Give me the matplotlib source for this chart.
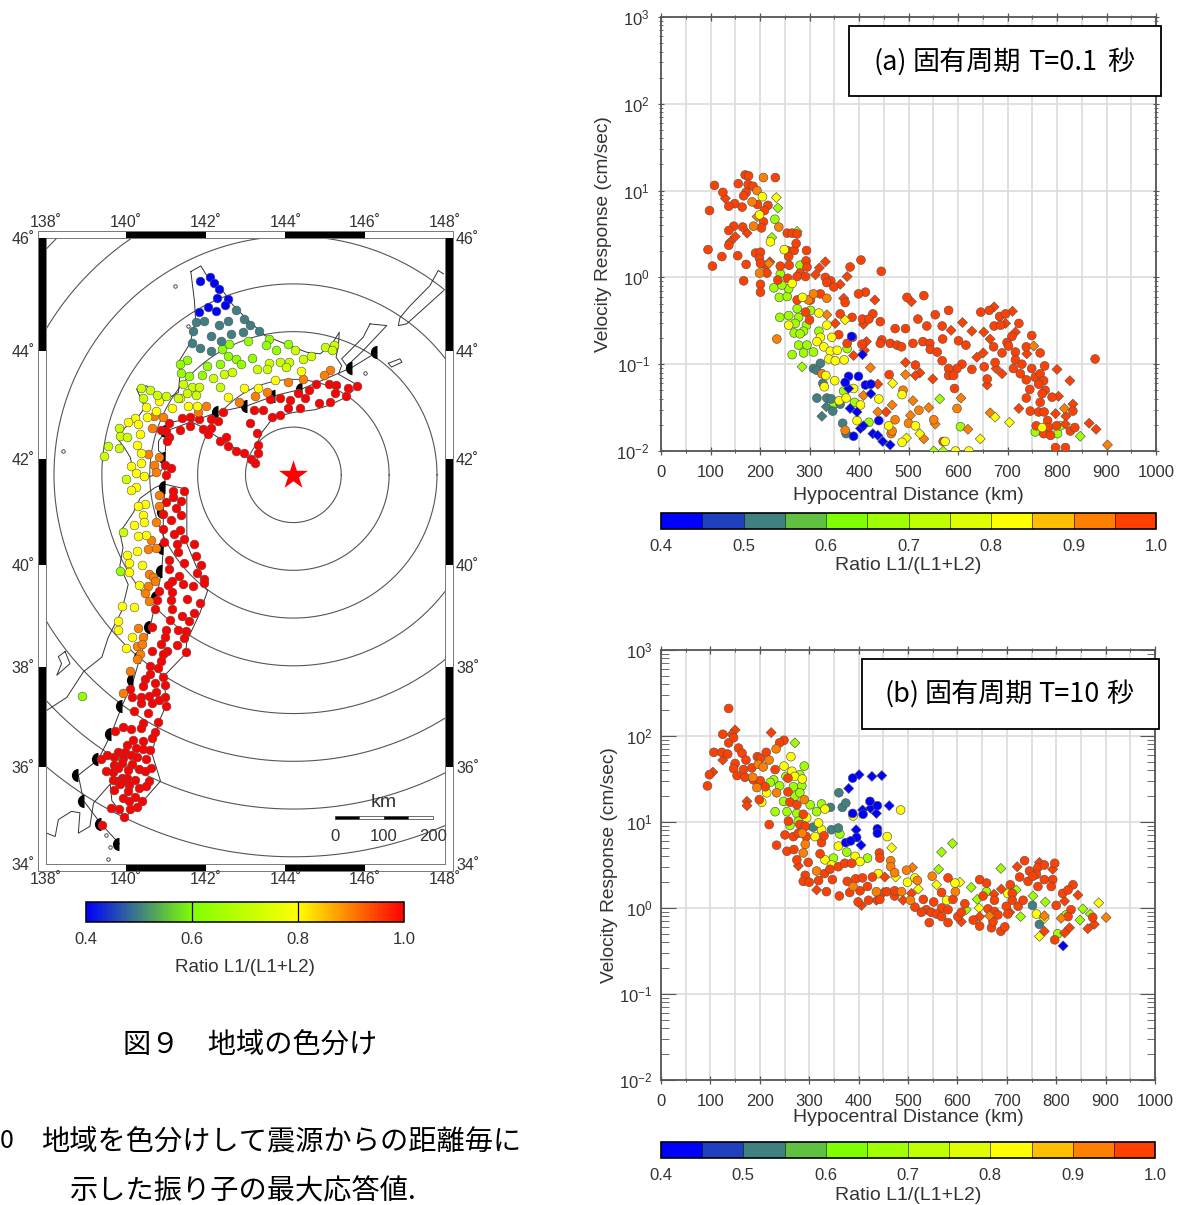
import numpy as np
import matplotlib
matplotlib.use('Agg')
import matplotlib.pyplot as plt
from matplotlib.cm import ScalarMappable
from matplotlib.colors import BoundaryNorm, LinearSegmentedColormap, ListedColormap, Normalize
from matplotlib.patches import Rectangle
from matplotlib.ticker import LogLocator, MultipleLocator, NullFormatter, NullLocator

plt.rcParams['font.family'] = ['Liberation Sans', 'Noto Sans CJK JP', 'DejaVu Sans']
plt.rcParams['mathtext.default'] = 'regular'
plt.rcParams['text.color'] = '#333333'
plt.rcParams['xtick.labelcolor'] = '#333333'
plt.rcParams['ytick.labelcolor'] = '#333333'

W, H = 1185, 1205

# ---- map data: stations by ratio class (lon, lat) ----
map_blue_lon = [141.85, 142.11, 142.21, 142.33, 142.28, 142.57, 142.48, 142.05, 142.25, 141.83]
map_blue_lat = [45.24, 45.32, 45.20, 45.11, 44.95, 44.92, 44.82, 44.79, 44.71, 44.70]
map_teal_lon = [142.75, 142.96, 143.12, 143.34, 141.75, 141.95, 142.33, 142.56, 141.68, 142.14, 142.63, 142.94, 142.38, 141.66, 141.85, 142.13]
map_teal_lat = [44.73, 44.57, 44.46, 44.35, 44.52, 44.53, 44.46, 44.53, 44.35, 44.27, 44.30, 44.33, 44.17, 44.14, 44.04, 44.00]
map_green_lon = [143.06, 143.58, 143.52, 143.77, 144.06, 142.41, 142.58, 142.56, 142.75, 142.89, 143.17, 141.54, 141.35, 141.39, 141.58, 141.91, 142.04, 142.36, 139.85, 138.89]
map_green_lat = [44.17, 44.21, 44.10, 44.01, 44.11, 44.02, 44.11, 43.90, 43.85, 43.76, 43.87, 43.83, 43.76, 43.59, 43.53, 43.55, 43.72, 43.76, 39.88, 37.43]
map_ygreen_lon = [144.24, 144.43, 144.64, 144.98, 145.23, 145.16, 142.18, 142.46, 142.66, 142.36, 141.43, 141.67, 141.84, 143.29, 143.58, 143.55, 143.87, 144.08, 144.02, 140.38, 140.61, 140.44, 140.78, 141.00, 141.32, 141.53, 141.77, 139.84, 139.85, 140.02, 139.56, 139.45, 139.82, 140.00, 139.93]
map_ygreen_lat = [44.01, 43.85, 43.90, 44.06, 44.10, 44.01, 43.50, 43.57, 43.61, 43.33, 43.39, 43.33, 43.33, 43.66, 43.78, 43.66, 43.79, 43.80, 43.70, 43.31, 43.28, 43.14, 43.19, 43.18, 43.14, 43.22, 43.19, 42.59, 42.44, 42.42, 42.24, 42.06, 42.22, 41.64, 40.63]
map_yellow_lon = [140.51, 140.83, 141.36, 141.55, 141.17, 140.76, 140.53, 140.24, 140.06, 140.36, 140.31, 140.27, 140.38, 140.37, 140.14, 140.26, 140.45, 140.26, 140.13, 140.48, 140.31, 140.44, 140.45, 140.20, 140.51, 140.30, 142.57, 142.95, 143.31, 143.74, 144.38, 141.78, 140.03, 140.27, 140.08, 140.41, 140.08, 140.34, 139.91, 140.20, 139.80, 139.80, 140.16, 140.00]
map_yellow_lat = [42.97, 43.08, 43.13, 42.99, 42.96, 42.89, 42.79, 42.77, 42.69, 42.48, 42.65, 42.26, 42.12, 41.94, 41.87, 41.74, 41.68, 41.48, 41.42, 41.17, 41.12, 40.96, 40.81, 40.77, 40.58, 40.56, 43.16, 43.32, 43.31, 43.46, 43.62, 42.99, 40.19, 40.27, 40.03, 39.99, 39.87, 39.61, 39.20, 39.19, 38.91, 38.74, 38.60, 38.38]
map_orange_lon = [145.12, 144.96, 144.44, 144.07, 143.54, 143.24, 142.83, 142.00, 141.82, 140.70, 140.93, 140.65, 140.56, 140.82, 140.71, 140.75, 140.82, 140.83, 140.75, 140.63, 140.56, 140.76, 140.59, 140.67, 140.73, 140.55, 140.48, 140.57, 140.31, 140.42, 140.29, 140.40, 140.36, 140.27, 140.11, 139.94]
map_orange_lat = [43.65, 43.55, 43.49, 43.42, 43.24, 43.17, 43.06, 42.98, 42.87, 42.80, 42.78, 42.58, 42.10, 42.04, 41.89, 41.76, 41.33, 41.13, 40.81, 40.47, 40.30, 40.32, 39.82, 39.77, 39.69, 39.59, 39.46, 39.29, 38.78, 38.60, 38.41, 38.45, 38.27, 38.17, 37.92, 37.48]
map_red_lon = [145.09, 145.27, 144.76, 145.79, 145.58, 145.25, 145.52, 144.59, 144.32, 143.87, 143.61, 144.12, 144.49, 145.13, 144.85, 144.37, 144.06, 143.86, 143.66, 143.45, 143.21, 142.44, 142.30, 142.14, 141.83, 141.62, 141.41, 141.08, 140.88, 141.00, 141.08, 141.03, 141.36, 141.62, 141.93, 142.14, 142.05, 143.12, 143.28, 142.36, 142.50, 142.57, 143.32, 143.31, 142.76, 142.95, 143.13, 143.23, 140.97, 141.14, 141.01, 141.18, 141.46, 141.19, 141.00, 141.39, 141.25, 140.93, 141.38, 141.13, 140.92, 141.37, 141.21, 141.47, 140.95, 141.28, 141.72,
               141.30, 141.77, 141.08, 141.45, 141.88, 141.08, 141.79, 141.33, 141.97, 141.15, 141.95, 141.43, 141.68, 141.05, 140.83, 141.15, 141.14, 141.53, 141.87, 140.78, 141.16, 140.72, 141.70, 141.41, 141.12, 141.58, 140.65, 141.02, 141.31, 141.51, 140.97, 141.45, 140.89, 141.28, 140.65, 141.04, 141.50, 140.94, 140.87, 140.61, 140.80, 140.61, 140.93, 140.48, 140.73, 140.98, 140.44, 140.11, 140.76, 140.15, 140.37, 140.58, 140.97, 140.37, 140.65, 140.82, 141.01, 140.20, 140.56, 140.80, 140.42, 139.94, 140.14, 140.38, 139.72, 140.72, 140.65, 140.17, 140.42, 140.02, 140.25, 140.44, 140.61, 139.54, 139.39, 139.81, 139.98, 139.70, 139.94, 140.14, 140.29, 140.50, 139.71, 139.90, 140.15, 139.50, 139.67, 139.81, 140.06, 140.33, 140.64, 140.48, 139.69, 139.84, 139.90, 140.02, 140.24, 140.58, 140.09, 140.34, 140.51, 139.71, 140.06, 139.92, 140.23, 140.40, 140.09, 140.27, 139.63, 139.84, 140.11, 139.95, 139.40, 139.78, 139.93, 139.86]
map_red_lat = [43.39, 43.37, 43.40, 43.36, 43.32, 43.22, 43.18, 43.29, 43.22, 43.14, 43.11, 43.10, 43.14, 43.06, 43.04, 42.95, 42.95, 42.83, 42.79, 42.92, 42.92, 42.87, 42.72, 42.75, 42.75, 42.78, 42.76, 42.67, 42.55, 42.53, 42.41, 42.34, 42.55, 42.62, 42.56, 42.58, 42.47, 42.68, 42.49, 42.34, 42.41, 42.24, 42.27, 42.12, 42.16, 42.12, 42.01, 41.93, 41.90, 41.83, 41.71, 41.41, 41.41, 41.29, 41.19, 41.22, 41.08, 40.98, 40.96, 40.86, 40.68, 40.67, 40.60, 40.50, 40.43, 40.40, 40.40,
               40.25, 40.17, 40.10, 40.03, 40.00, 39.92, 39.84, 39.78, 39.73, 39.69, 39.64, 39.63, 39.60, 39.61, 39.50, 39.48, 39.31, 39.33, 39.26, 39.31, 39.14, 39.15, 39.07, 39.01, 38.93, 38.91, 38.80, 38.73, 38.74, 38.72, 38.59, 38.58, 38.45, 38.43, 38.33, 38.33, 38.30, 38.27, 38.12, 38.02, 37.99, 37.86, 37.81, 37.77, 37.68, 37.64, 37.62, 37.56, 37.50, 37.40, 37.40, 37.43, 37.41, 37.28, 37.29, 37.35, 37.23, 37.12, 37.09, 36.91, 36.88, 36.81, 36.76, 36.78, 36.73, 36.71, 36.59, 36.55, 36.53, 36.44, 36.39, 36.36, 36.35, 36.24, 36.15, 36.30, 36.30, 36.19, 36.17, 36.24, 36.20, 36.15, 36.04, 36.07, 36.05, 35.92, 35.90, 35.97, 35.93, 35.96, 35.98, 35.92, 35.73, 35.70, 35.78, 35.77, 35.73, 35.71, 35.63, 35.57, 35.61, 35.53, 35.50, 35.37, 35.39, 35.31, 35.31, 35.18, 35.16, 35.13, 35.13, 34.98, 34.80, 35.72, 35.72, 35.66]

# black marks along the line and the line itself
line_lon = [146.29, 145.66, 144.41, 143.74, 143.03, 142.32, 141.02, 140.98, 140.98, 140.94, 140.94, 140.90, 140.77, 140.61, 140.36, 140.19, 139.90, 139.63, 139.31, 138.81, 138.94, 139.38, 139.84]
line_lat = [43.97, 43.69, 43.30, 43.18, 42.99, 42.88, 42.53, 42.03, 41.49, 41.00, 40.33, 39.88, 39.37, 38.79, 38.20, 37.74, 37.22, 36.66, 36.15, 35.83, 35.31, 34.83, 34.42]

# coast lines
hokkaido_lon = [141.63, 141.88, 142.03, 142.40, 142.67, 143.03, 143.49, 144.03, 144.53, 144.87, 145.16, 145.35, 145.33, 145.27, 145.41, 145.33, 145.62, 145.83, 145.49, 145.12, 144.74, 144.20, 143.70, 143.41, 143.28, 143.37, 143.21, 142.95, 142.53, 141.94, 141.53, 141.19, 141.00, 140.82, 140.82, 140.98, 140.94, 140.82, 140.48, 140.19, 140.11, 139.98, 139.79, 139.98, 140.27, 140.48, 140.27, 140.52, 140.94, 141.32, 141.36, 141.32, 141.61, 141.75, 141.72, 141.63]
hokkaido_lat = [45.41, 45.51, 45.34, 45.10, 44.83, 44.57, 44.27, 44.11, 43.97, 43.94, 44.11, 44.33, 44.09, 43.88, 43.73, 43.57, 43.45, 43.36, 43.14, 43.01, 42.92, 42.87, 42.78, 42.50, 42.28, 42.13, 41.89, 42.11, 42.30, 42.59, 42.74, 42.70, 42.53, 42.34, 42.16, 42.07, 41.85, 41.72, 41.66, 41.79, 42.04, 42.20, 42.39, 42.59, 42.75, 42.96, 43.30, 43.36, 43.08, 43.24, 43.59, 43.79, 44.13, 44.55, 44.89, 45.41]
honshu_lon = [140.94, 141.53, 141.53, 141.53, 141.99, 142.05, 141.86, 141.53, 141.50, 140.94, 141.03, 140.82, 140.66, 140.87, 140.44, 139.98, 139.65, 139.61, 139.19, 139.10, 138.81, 138.85, 138.64, 138.31, 138.23, 138.02]
honshu_lat = [41.54, 41.44, 41.02, 40.40, 39.56, 39.50, 39.07, 38.52, 38.27, 37.81, 37.27, 36.90, 36.26, 35.71, 35.31, 34.97, 35.31, 35.65, 35.26, 34.78, 34.64, 35.06, 35.09, 34.92, 34.57, 34.64]
honshu_west_lon = [138.00, 138.52, 138.94, 139.40, 139.56, 139.90, 140.06, 139.85, 139.93, 139.85, 140.19, 140.36, 140.73, 140.94]
honshu_west_lat = [37.13, 37.40, 37.91, 38.20, 38.59, 39.11, 39.62, 39.98, 40.33, 40.62, 41.00, 41.27, 41.47, 41.54]
sado_lon = [138.48, 138.60, 138.27, 138.39, 138.31, 138.48]
sado_lat = [38.31, 38.07, 37.84, 38.07, 38.21, 38.31]
kunashiri_lon = [146.12, 146.54, 145.95, 145.54, 145.41, 145.95, 146.12]
kunashiri_lat = [44.48, 44.45, 44.00, 43.72, 43.85, 44.24, 44.48]
etorofu_lon = [147.96, 147.83, 147.62, 147.12, 146.87, 146.83, 147.04, 147.96]
etorofu_lat = [45.37, 45.43, 45.16, 44.80, 44.59, 44.45, 44.48, 45.07]
shikotan_lon = [146.58, 146.87, 146.92, 146.66, 146.58]
shikotan_lat = [43.77, 43.85, 43.79, 43.70, 43.77]
island_lon = [141.23, 141.55, 139.50, 139.60, 139.55, 138.43, 146.00]
island_lat = [45.16, 44.45, 34.60, 34.35, 34.10, 42.15, 43.60]

epicenter_lon, epicenter_lat = 144.20, 41.71
circle_km = [100, 200, 300, 400, 500, 600, 700, 800]
deg_per_100km = 1.2

# ---- panel (a): distance km, log10 velocity ----
a_red_c_km = [170, 177, 231, 156, 176, 186, 108, 125, 172, 167, 149, 137, 164, 195, 216, 209, 98, 207, 203, 147, 137, 165, 255, 265, 275, 137, 95, 191, 201, 155, 123, 104, 172, 199, 211, 201, 214, 167, 201, 201, 255, 269, 273, 294, 258, 293, 241, 259, 295, 281, 275, 292, 256, 236, 404, 382, 445, 332, 343, 335, 349, 322, 302, 275, 292, 300, 413, 399, 531, 497, 372, 362, 386, 407, 428, 420, 443, 519, 554, 581, 537, 568, 494, 473, 359, 387, 376, 406, 446, 443, 463, 477, 486, 509, 529, 543, 544, 558, 568, 569, 601, 616, 646, 663, 684, 696, 723, 673, 686, 709, 699, 672, 702, 689, 716, 749, 738, 766, 716, 675, 653, 628, 608, 598, 581, 581, 591, 514, 461, 729, 712, 726, 738, 749, 775, 756, 766, 773, 763, 745, 659, 593, 738, 776, 770, 790, 766, 746, 763, 774, 781, 758, 783, 799, 773, 787, 827, 836, 877, 832, 570, 797, 817]
a_red_c_logv = [1.18, 1.17, 1.15, 1.08, 1.07, 1.05, 1.06, 0.98, 0.98, 0.94, 0.85, 0.82, 0.81, 0.84, 0.83, 0.77, 0.77, 0.64, 0.57, 0.59, 0.54, 0.58, 0.51, 0.51, 0.50, 0.37, 0.32, 0.28, 0.29, 0.25, 0.24, 0.13, 0.15, 0.22, 0.14, 0.16, 0.05, -0.04, -0.08, -0.17, 0.31, 0.31, 0.39, 0.31, 0.24, 0.19, 0.13, 0.14, 0.12, 0.05, 0.01, 0.01, -0.01, -0.03, 0.20, 0.12, 0.07, 0.00, -0.04, -0.06, -0.11, -0.19, -0.26, -0.26, -0.40, -0.49, -0.17, -0.19, -0.21, -0.23, -0.29, -0.42, -0.46, -0.48, -0.42, -0.48, -0.51, -0.48, -0.43, -0.38, -0.56, -0.56, -0.59, -0.59, -0.66, -0.69, -0.76, -0.77, -0.72, -0.76, -0.76, -0.78, -0.80, -0.76, -0.74, -0.76, -0.83, -0.86, -0.96, -0.71, -0.73, -0.78, -0.40, -0.38, -0.45, -0.42, -0.53, -0.56, -0.55, -0.68, -0.75, -0.80, -0.79, -0.87, -0.86, -0.67, -0.80, -0.87, -0.95, -0.98, -1.03, -1.06, -1.00, -1.05, -1.05, -1.13, -1.13, -1.01, -1.12, -1.00, -1.05, -1.11, -1.18, -1.05, -1.02, -1.15, -1.11, -1.19, -1.23, -1.29, -1.17, -1.28, -1.39, -1.30, -1.34, -1.38, -1.44, -1.54, -1.55, -1.55, -1.65, -1.71, -1.73, -1.71, -1.80, -1.82, -1.77, -1.73, -0.94, -1.54, -1.89, -1.96, -1.96]
a_red_d_km = [130, 150, 140, 174, 220, 332, 320, 312, 376, 362, 369, 432, 506, 409, 352, 415, 411, 389, 494, 523, 514, 549, 438, 455, 586, 609, 628, 652, 673, 710, 696, 716, 665, 651, 638, 739, 689, 659, 677, 800, 826, 723, 797, 818, 832, 865, 879, 803, 817]
a_red_d_logv = [0.91, 0.47, 0.41, 0.51, 0.18, 0.18, 0.11, 0.03, 0.01, -0.08, -0.24, -0.26, -0.28, -0.54, -0.53, -0.74, -0.84, -0.90, -0.98, -1.10, -1.13, -1.17, -1.23, -1.55, -0.61, -0.52, -0.62, -0.63, -0.34, -0.39, -0.53, -0.63, -0.71, -0.87, -0.92, -0.88, -1.11, -1.24, -1.05, -1.06, -1.19, -1.51, -1.57, -1.60, -1.46, -1.68, -1.75, -1.37, -1.69]
a_orange_c_km = [234, 187, 199, 238, 489, 521, 598, 473, 500, 551, 465, 467, 325, 372, 298, 308, 335, 194, 184, 207]
a_orange_c_logv = [-0.71, 0.59, 0.05, 0.58, -1.30, -1.53, -1.51, -1.64, -1.68, -1.64, -1.80, -1.77, -1.11, -1.76, -0.26, -0.19, -0.24, 1.00, 0.87, 1.15]
a_orange_d_km = [423, 494, 467, 509, 504, 541, 554, 606, 620, 665, 531, 753, 815, 902, 438, 335, 409, 194, 218]
a_orange_d_logv = [-1.04, -1.12, -1.47, -1.42, -1.59, -1.50, -1.69, -1.39, -1.75, -1.56, -1.86, -0.79, -1.51, -1.93, -1.55, -0.43, -1.36, 0.70, 0.16]
a_yellow_c_km = [205, 199, 221, 249, 265, 286, 319, 258, 322, 335, 345, 315, 329, 342, 356, 370, 339, 352, 333, 351, 330, 389, 360, 374, 440, 487, 396, 460, 514, 487, 574, 403, 770, 595, 622]
a_yellow_c_logv = [0.93, 0.72, 0.41, 0.32, -0.07, -0.23, -0.41, -0.55, -0.69, -0.55, -0.69, -0.74, -0.80, -0.85, -0.84, -0.95, -0.94, -0.96, -1.13, -1.19, -1.26, -1.28, -1.42, -1.39, -1.40, -1.35, -1.65, -1.71, -1.71, -1.90, -1.89, -1.47, -1.73, -2.00, -2.00]
a_yellow_d_km = [233, 372, 468, 675, 704, 645, 496, 523]
a_yellow_d_logv = [0.92, -0.49, -1.22, -1.61, -1.67, -1.86, -1.85, -1.80]
a_lime_c_km = [230, 228, 239, 255, 240, 258, 278, 271, 294, 288, 269, 281, 278, 295, 288, 308, 265, 319, 302, 275, 258, 241, 281, 244, 369, 420, 349, 391, 376, 756, 801, 807, 605]
a_lime_c_logv = [0.67, -0.12, -0.23, -0.22, -0.46, -0.44, -0.46, -0.53, -0.55, -0.62, -0.64, -0.65, -0.78, -0.78, -0.87, -0.86, -0.89, -0.62, -0.38, -0.36, -0.13, 0.04, 0.14, -0.09, -1.31, -1.67, -1.46, -1.44, -0.82, -1.78, -1.80, -1.71, -1.72]
a_lime_d_km = [236, 275, 224, 285, 563, 847, 551, 570]
a_lime_d_logv = [0.80, 0.53, 0.46, -1.03, -1.40, -1.83, -2.00, -2.00]
a_teal_c_km = [315, 335, 344, 347, 367, 374, 362, 327, 308, 322, 315]
a_teal_c_logv = [-1.39, -1.39, -1.40, -1.54, -1.68, -1.80, -1.46, -1.22, -1.05, -0.99, -1.07]
a_teal_d_km = [325, 334]
a_teal_d_logv = [-1.60, -1.49]
a_blue_c_km = [385, 379, 399, 372, 413, 424, 440, 389]
a_blue_c_logv = [-0.68, -1.14, -1.14, -1.21, -1.24, -1.23, -1.65, -1.83]
a_blue_d_km = [407, 382, 396, 424, 379, 403, 409, 428, 438, 448, 463]
a_blue_d_logv = [-0.89, -1.51, -1.55, -1.34, -1.28, -1.74, -1.71, -1.80, -1.82, -1.89, -1.93]

# ---- panel (b) ----
b_red_c_km = [137, 125, 137, 147, 107, 123, 135, 157, 164, 172, 150, 147, 167, 154, 170, 184, 195, 213, 201, 249, 240, 187, 201, 211, 199, 257, 231, 257, 98, 94, 261, 275, 219, 234, 281, 292, 258, 288, 251, 268, 278, 294, 255, 269, 275, 298, 322, 325, 330, 292, 288, 300, 319, 347, 331, 342, 359, 372, 386, 377, 394, 408, 428, 335, 361, 382, 403, 418, 442, 443, 399, 420, 443, 457, 473, 473, 531, 514, 552, 568, 581, 537, 527, 547, 568, 558, 568, 543, 581, 581, 591, 601, 615, 608, 645, 632, 662, 652, 659, 645, 675, 675, 682, 669, 688, 672, 699, 702, 723, 707, 711, 711, 736, 726, 746, 763, 776, 797, 743, 763, 776, 793, 790, 760, 753, 733, 800, 834, 813, 824, 830, 824, 874, 797, 696]
b_red_c_logv = [2.32, 2.02, 1.92, 1.98, 1.81, 1.81, 1.79, 1.86, 1.80, 1.72, 1.68, 1.62, 1.61, 1.54, 1.52, 1.63, 1.76, 1.81, 1.74, 1.95, 1.92, 1.49, 1.48, 1.41, 1.26, 1.51, 1.61, 1.35, 1.55, 1.42, 1.23, 1.20, 0.97, 0.73, 0.97, 0.95, 1.01, 1.09, 0.85, 0.83, 0.87, 0.83, 0.66, 0.68, 0.56, 0.53, 0.63, 0.76, 0.84, 0.38, 0.31, 0.30, 0.32, 0.33, 0.40, 0.45, 0.48, 0.52, 0.52, 0.31, 0.34, 0.35, 0.36, 0.19, 0.14, 0.18, 0.20, 0.25, 0.64, 0.58, 0.07, 0.09, 0.10, 0.19, 0.14, 0.20, 0.10, 0.01, 0.07, 0.18, 0.35, -0.02, -0.05, -0.05, 0.00, -0.07, -0.10, -0.17, -0.02, -0.17, 0.10, -0.10, 0.05, -0.05, -0.21, -0.14, -0.01, 0.14, 0.29, 0.33, -0.04, 0.09, -0.08, -0.23, -0.27, -0.16, 0.02, -0.07, 0.02, 0.27, 0.17, 0.09, 0.55, 0.36, 0.43, 0.47, 0.50, 0.52, 0.31, 0.25, 0.33, 0.33, 0.25, 0.39, 0.37, 0.09, 0.03, 0.27, 0.17, 0.21, -0.02, -0.10, -0.11, -0.37, -0.22]
b_red_d_km = [150, 223, 143, 125, 105, 174, 174, 315, 278, 406, 436, 453, 490, 507, 645, 689, 721, 674, 766, 793, 817, 827, 817, 864, 877, 776, 844, 608, 706, 450]
b_red_d_logv = [2.07, 2.04, 2.02, 1.72, 1.58, 1.24, 1.19, 0.21, 0.49, 0.03, 0.09, 0.36, 0.09, 0.17, -0.10, 0.22, 0.48, 0.16, 0.53, 0.45, 0.08, -0.23, -0.29, -0.24, -0.19, -0.27, 0.15, -0.16, -0.05, 0.18]
b_orange_c_km = [233, 219, 197, 207, 186, 194, 234, 290, 286, 292, 288, 465, 465, 473, 497, 549, 519, 487, 505, 596, 436, 389, 315]
b_orange_c_logv = [1.85, 1.72, 1.67, 1.64, 1.52, 1.40, 1.34, 1.26, 0.87, 0.74, 0.64, 0.55, 0.48, 0.41, 0.44, 0.37, 0.32, 0.19, 0.09, 0.19, 0.19, 0.25, 0.43]
b_orange_d_km = [509, 901, 776, 810, 665]
b_orange_d_logv = [0.47, -0.11, -0.09, -0.12, -0.09]
b_yellow_c_km = [263, 249, 265, 271, 286, 214, 204, 295, 312, 325, 319, 332, 485, 389, 458, 359, 332, 345, 393, 403, 440, 499, 514, 578, 595, 702, 760]
b_yellow_c_logv = [1.76, 1.65, 1.59, 1.53, 1.50, 1.34, 1.23, 1.05, 0.83, 0.91, 0.99, 1.15, 1.14, 1.07, 0.83, 0.72, 0.56, 0.50, 0.60, 0.54, 0.40, 0.30, 0.35, 0.09, 0.29, 0.17, -0.07]
b_yellow_d_km = [467, 475, 521, 558, 605, 776, 766, 886, 644]
b_yellow_d_logv = [0.70, 0.36, 0.22, 0.27, 0.30, -0.12, -0.33, 0.06, 0.00]
b_lime_c_km = [290, 228, 240, 268, 281, 285, 253, 231, 255, 275, 302, 325, 315, 261, 278, 362, 376, 418, 349, 659, 820, 803, 248, 271, 281, 221]
b_lime_c_logv = [1.65, 1.49, 1.42, 1.41, 1.55, 1.42, 1.53, 1.12, 1.12, 1.10, 1.20, 1.21, 1.12, 0.96, 1.01, 0.86, 0.65, 0.58, 0.58, 0.19, -0.08, -0.30, 1.24, 1.30, 1.34, 1.46]
b_lime_d_km = [271, 562, 568, 590, 628, 688, 778, 728, 854, 848, 869, 753, 640, 719, 618]
b_lime_d_logv = [1.92, 0.45, 0.65, 0.75, 0.24, 0.46, 0.07, -0.10, -0.01, -0.14, -0.07, 0.14, 0.10, 0.21, -0.02]
b_teal_c_km = [360, 367, 374, 343, 345, 359, 308, 752, 766]
b_teal_c_logv = [1.34, 1.17, 1.22, 1.17, 0.91, 0.93, 0.94, 0.03, -0.19]
b_blue_c_km = [388, 423, 438, 388, 409, 438, 438, 396, 374, 384]
b_blue_c_logv = [1.51, 1.24, 1.19, 1.10, 1.09, 0.92, 0.87, 0.82, 0.76, 0.78]
b_blue_d_km = [401, 427, 447, 380, 424, 462, 436, 408, 395, 405, 814]
b_blue_d_logv = [1.55, 1.53, 1.54, 1.39, 1.16, 1.19, 1.10, 1.14, 0.91, 0.73, -0.44]

# ---- colours / ticks ----
bar_colors = ['#0000ff', '#2040c0', '#408080', '#60c040', '#80ff00', '#a0ff00',
              '#bfff00', '#dfff00', '#ffff00', '#ffbf00', '#ff8000', '#ff4000']
bar_bounds = [0.40, 0.45, 0.50, 0.55, 0.60, 0.65, 0.70, 0.75, 0.80, 0.85, 0.90, 0.95, 1.00]
bar_ticks = [0.4, 0.5, 0.6, 0.7, 0.8, 0.9, 1.0]
map_bar_ticks = [0.4, 0.6, 0.8, 1.0]
ratio_blue, ratio_teal, ratio_lime, ratio_yellow, ratio_orange, ratio_red = 0.42, 0.52, 0.67, 0.82, 0.92, 0.98

spine_col = '#555555'
grid_col = '#dcdcdc'


def box(l, t, r, b):
    # pixels of the reference -> figure fraction
    return [l / W, 1 - b / H, (r - l) / W, (b - t) / H]


def merc(lat):
    return np.log(np.tan(np.pi / 4 + np.radians(np.asarray(lat, dtype=float)) / 2))


def inv_merc(y):
    return np.degrees(2 * np.arctan(np.exp(np.asarray(y, dtype=float))) - np.pi / 2)


fig = plt.figure(figsize=(W / 100, H / 100), dpi=100)

# ---------------- map ----------------
ax = fig.add_axes(box(46, 238, 445, 864))
ax.set_yscale('function', functions=(merc, inv_merc))
ax.set_xlim(138, 148)
ax.set_ylim(34, 46)
ax.set_xticks([138, 140, 142, 144, 146, 148])
ax.set_xticklabels([f'{v}\u02da' for v in [138, 140, 142, 144, 146, 148]])
ax.set_yticks([34, 36, 38, 40, 42, 44, 46])
ax.set_yticklabels([f'{v}\u02da' for v in [34, 36, 38, 40, 42, 44, 46]])
ax.yaxis.set_minor_locator(NullLocator())
ax.yaxis.set_minor_formatter(NullFormatter())
ax.tick_params(axis='x', length=0, labelsize=11.5, top=True, labeltop=True, pad=6)
ax.tick_params(axis='y', length=0, labelsize=11.5, right=True, labelright=True, pad=8)
for s in ax.spines.values():
    s.set_linewidth(0.7)
    s.set_color('#777777')

# distance circles stay round in the map projection
theta = np.linspace(0, 2 * np.pi, 720)
for km in circle_km:
    r = km / 100 * deg_per_100km
    cx = epicenter_lon + r * np.cos(theta)
    cy = inv_merc(merc(epicenter_lat) + np.radians(r) * np.sin(theta))
    ax.plot(cx, cy, color='#555555', lw=0.8, zorder=1)

for lons, lats in [(hokkaido_lon, hokkaido_lat), (honshu_lon, honshu_lat), (honshu_west_lon, honshu_west_lat),
                   (sado_lon, sado_lat), (kunashiri_lon, kunashiri_lat), (etorofu_lon, etorofu_lat),
                   (shikotan_lon, shikotan_lat)]:
    ax.plot(lons, lats, color='#333333', lw=0.7, zorder=2)
ax.plot(island_lon, island_lat, ls='none', marker='o', ms=2.5, mfc='white', mec='#333333', mew=0.6, zorder=2)
ax.plot(line_lon, line_lat, color='#333333', lw=0.7, zorder=2)
ax.plot(line_lon, line_lat, ls='none', marker='o', ms=9.5, fillstyle='left', mfc='black',
        markerfacecoloralt='none', mec='none', zorder=2)

map_cmap = LinearSegmentedColormap.from_list('ratio', [(0, '#0000ff'), (1 / 6, '#408080'), (2 / 6, '#80ff00'),
                                                       (4 / 6, '#ffff00'), (1, '#ff0000')])
map_norm = Normalize(0.4, 1.0)
for lons, lats, ratio in [(map_red_lon, map_red_lat, 1.0), (map_orange_lon, map_orange_lat, 0.9),
                          (map_yellow_lon, map_yellow_lat, 0.8), (map_ygreen_lon, map_ygreen_lat, 0.72),
                          (map_green_lon, map_green_lat, 0.63), (map_teal_lon, map_teal_lat, 0.5),
                          (map_blue_lon, map_blue_lat, 0.4)]:
    ax.scatter(lons, lats, s=40, color=map_cmap(map_norm(ratio)), edgecolor='#555555', linewidth=0.4, zorder=3)
ax.scatter([epicenter_lon], [epicenter_lat], marker='*', s=480, color='#ff0000', linewidth=0, zorder=4)

# fancy frame round the map
for lon0 in [140, 144]:
    ax.add_patch(Rectangle((lon0, 46), 2, 0.125, fc='black', ec='none', clip_on=False))
    ax.add_patch(Rectangle((lon0, 33.86), 2, 0.14, fc='black', ec='none', clip_on=False))
for lat0 in [44, 40, 36]:
    ax.add_patch(Rectangle((137.81, lat0), 0.19, 2, fc='black', ec='none', clip_on=False))
    ax.add_patch(Rectangle((148, lat0), 0.19, 2, fc='black', ec='none', clip_on=False))
ax.add_patch(Rectangle((137.81, 33.86), 10.38, 12.265, fc='none', ec='#777777', lw=0.7, clip_on=False))

# scale bar
bar_lon0 = 145.24
bar_100 = 1.23
for i in range(4):
    ax.add_patch(Rectangle((bar_lon0 + i * bar_100 / 2, 34.93), bar_100 / 2, 0.07,
                           fc='black' if i % 2 == 0 else 'white', ec='#333333', lw=0.5, zorder=5))
ax.text(bar_lon0 + bar_100, 35.09, 'km', ha='center', va='bottom', fontsize=14)
for i, lab in enumerate(['0', '100', '200']):
    ax.text(bar_lon0 + i * bar_100, 34.58, lab, ha='center', va='center', fontsize=12)

# map colour bar
cax = fig.add_axes(box(86, 902, 404, 922))
fig.colorbar(ScalarMappable(map_norm, map_cmap), cax=cax, orientation='horizontal', ticks=map_bar_ticks)
cax.set_xticklabels(['0.4', '0.6', '0.8', '1.0'])
cax.tick_params(length=0, labelsize=12, pad=7)
for v in map_bar_ticks[1:-1]:
    cax.axvline(v, color='black', lw=0.9)
cax.spines['outline'].set_linewidth(1.1)
fig.text(245 / W, 1 - 967 / H, 'Ratio L1/(L1+L2)', ha='center', va='center', fontsize=13.5)

# ---------------- scatter panels ----------------
cmap = ListedColormap(bar_colors)
norm = BoundaryNorm(bar_bounds, cmap.N)
jp = 'Noto Sans CJK JP'


def panel(rect, groups, title_box, title_parts, bar_rect, xlabel_y, ratio_y, ylabel_x, y_inside):
    a = fig.add_axes(box(*rect))
    a.set_yscale('log')
    a.set_xlim(0, 1000)
    a.set_ylim(1e-2, 1e3)
    a.xaxis.set_major_locator(MultipleLocator(100))
    a.xaxis.set_minor_locator(MultipleLocator(50))
    a.yaxis.set_major_locator(LogLocator(base=10, numticks=8))
    a.yaxis.set_minor_locator(LogLocator(base=10, subs=np.arange(2, 10), numticks=8))
    a.yaxis.set_minor_formatter(NullFormatter())
    a.grid(which='major', color=grid_col, lw=1.2)
    a.grid(which='minor', axis='x', color=grid_col, lw=1.2)
    a.set_axisbelow(True)
    a.tick_params(axis='x', which='major', direction='inout', length=6, width=0.9, color=spine_col, top=True, labelsize=12, pad=7)
    a.tick_params(axis='x', which='minor', direction='inout', length=3.5, width=0.7, color=spine_col, top=True)
    if y_inside:
        a.tick_params(axis='y', which='major', direction='in', length=11, width=0.8, color=spine_col, right=True, labelsize=12, pad=6)
        a.tick_params(axis='y', which='minor', direction='in', length=6, width=0.6, color=spine_col, right=True)
    else:
        a.tick_params(axis='y', which='major', direction='inout', length=4, width=0.8, color=spine_col, right=True, labelsize=12, pad=6)
        a.tick_params(axis='y', which='minor', direction='inout', length=2.5, width=0.6, color=spine_col, right=True)
    for s in a.spines.values():
        s.set_linewidth(1.3)
        s.set_color(spine_col)
    for km, logv, ratio, marker in groups:
        a.scatter(km, 10 ** np.array(logv), s=40 if marker == 'o' else 26, marker=marker, c=[ratio] * len(km),
                  cmap=cmap, norm=norm, edgecolor='#555555', linewidth=0.45, zorder=3)
    fig.text((rect[0] + rect[2]) / 2 / W, 1 - xlabel_y / H, 'Hypocentral Distance (km)', ha='center', va='center', fontsize=14)
    fig.text(ylabel_x / W, 1 - (rect[1] + rect[3]) / 2 / H, 'Velocity Response (cm/sec)', rotation=90, ha='center', va='center', fontsize=13.8)
    # white label box with the period
    fig.add_artist(Rectangle((title_box[0] / W, 1 - title_box[3] / H), (title_box[2] - title_box[0]) / W,
                             (title_box[3] - title_box[1]) / H, transform=fig.transFigure, fc='white', ec='black', lw=1.3, zorder=6))
    for txt, cx, cy in title_parts:
        fig.text(cx / W, 1 - cy / H, txt, ha='center', va='center', fontsize=19.5, color='black', family=jp, zorder=7)
    # discrete colour bar
    c = fig.add_axes(box(*bar_rect))
    fig.colorbar(ScalarMappable(norm, cmap), cax=c, orientation='horizontal', ticks=bar_ticks, drawedges=True, spacing='proportional')
    c.set_xticklabels([f'{v:.1f}' for v in bar_ticks])
    c.tick_params(length=0, labelsize=12, pad=7)
    c.minorticks_off()
    c.spines['outline'].set_linewidth(1.2)
    fig.text((bar_rect[0] + bar_rect[2]) / 2 / W, 1 - ratio_y / H, 'Ratio L1/(L1+L2)', ha='center', va='center', fontsize=14)


groups_a = [(a_lime_c_km, a_lime_c_logv, ratio_lime, 'o'), (a_lime_d_km, a_lime_d_logv, ratio_lime, 'D'),
            (a_teal_c_km, a_teal_c_logv, ratio_teal, 'o'), (a_teal_d_km, a_teal_d_logv, ratio_teal, 'D'),
            (a_red_d_km, a_red_d_logv, ratio_red, 'D'), (a_red_c_km, a_red_c_logv, ratio_red, 'o'),
            (a_orange_d_km, a_orange_d_logv, ratio_orange, 'D'), (a_orange_c_km, a_orange_c_logv, ratio_orange, 'o'),
            (a_yellow_d_km, a_yellow_d_logv, ratio_yellow, 'D'), (a_yellow_c_km, a_yellow_c_logv, ratio_yellow, 'o'),
            (a_blue_d_km, a_blue_d_logv, ratio_blue, 'D'), (a_blue_c_km, a_blue_c_logv, ratio_blue, 'o')]
groups_b = [(b_lime_c_km, b_lime_c_logv, ratio_lime, 'o'), (b_lime_d_km, b_lime_d_logv, ratio_lime, 'D'),
            (b_teal_c_km, b_teal_c_logv, ratio_teal, 'o'),
            (b_yellow_d_km, b_yellow_d_logv, ratio_yellow, 'D'), (b_yellow_c_km, b_yellow_c_logv, ratio_yellow, 'o'),
            (b_red_d_km, b_red_d_logv, ratio_red, 'D'), (b_red_c_km, b_red_c_logv, ratio_red, 'o'),
            (b_orange_d_km, b_orange_d_logv, ratio_orange, 'D'), (b_orange_c_km, b_orange_c_logv, ratio_orange, 'o'),
            (b_blue_d_km, b_blue_d_logv, ratio_blue, 'D'), (b_blue_c_km, b_blue_c_logv, ratio_blue, 'o')]

panel((661, 17, 1156, 451), groups_a, (849, 26, 1161, 96),
      [('(a)', 890, 62), ('固有周期', 967, 62), ('T=0.1', 1063, 62), ('秒', 1121, 62)],
      (661, 513, 1156, 529), 495, 566, 603, False)
panel((661, 650, 1155, 1080), groups_b, (862, 659, 1159, 729),
      [('(b)', 902, 694), ('固有周期', 979, 694), ('T=10', 1069, 694), ('秒', 1120, 694)],
      (661, 1142, 1155, 1158), 1118, 1195, 609, True)

# ---------------- captions ----------------
cap_kw = dict(ha='center', va='center', fontsize=20.3, color='black', family=jp)
fig.text(250 / W, 1 - 1045 / H, '図９　地域の色分け', **cap_kw)
fig.text(281 / W, 1 - 1141 / H, '地域を色分けして震源からの距離毎に', **cap_kw)
fig.text(242 / W, 1 - 1191 / H, '示した振り子の最大応答値.', **cap_kw)
fig.text(0, 1 - 1141 / H, '0', ha='left', va='center', fontsize=18, color='black', family=jp)

fig.savefig('out.png', dpi=100)
